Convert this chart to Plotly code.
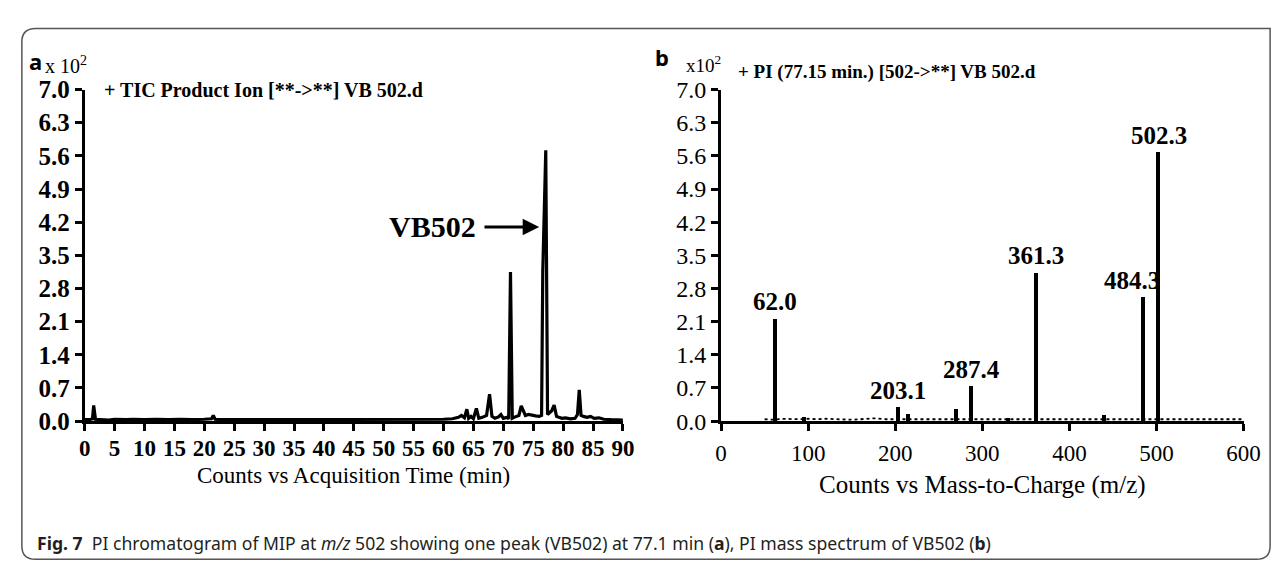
import plotly.graph_objects as go

W, H = 1285, 571

# ---------------- data ----------------
# Panel a: TIC chromatogram (time in min, counts x10^2)
time_min = [0.0, 0.8, 1.3, 1.5, 1.8, 3, 4, 5, 6, 7, 8, 9, 10, 12, 14, 16, 18, 20, 21.2, 21.5, 21.8,
            23, 25, 27, 30, 33, 35, 38, 40, 43, 45, 47, 50, 52, 55, 57, 60, 61.5,
            62.5, 63.0, 63.5, 63.9, 64.2, 64.6, 65.0, 65.5, 65.9, 66.5, 67.2, 67.7, 68.1, 68.6,
            69.2, 69.6, 70.0, 70.6, 70.9, 71.2, 71.5, 72.0, 72.6, 73.0, 73.3, 73.7, 74.2, 74.8,
            75.4, 76.0, 76.4, 76.6, 77.1, 77.4, 77.7, 78.1, 78.5, 78.9, 79.3, 79.8, 80.4, 81.2,
            82.0, 82.4, 82.7, 83.0, 83.4, 84.0, 84.6, 85.2, 86.0, 86.8, 88.0, 90.0]
tic_counts = [0.03, 0.03, 0.05, 0.33, 0.04, 0.03, 0.02, 0.04, 0.03, 0.03, 0.04, 0.03, 0.03, 0.04, 0.03, 0.04, 0.03, 0.04, 0.05, 0.12, 0.04,
              0.03, 0.03, 0.04, 0.03, 0.03, 0.04, 0.03, 0.03, 0.04, 0.03, 0.04, 0.03, 0.04, 0.03, 0.04, 0.04, 0.05,
              0.08, 0.12, 0.07, 0.25, 0.06, 0.10, 0.05, 0.27, 0.06, 0.08, 0.12, 0.57, 0.10, 0.06,
              0.09, 0.14, 0.06, 0.08, 0.05, 3.15, 0.06, 0.09, 0.12, 0.32, 0.22, 0.12, 0.14, 0.12,
              0.11, 0.10, 0.12, 3.15, 5.72, 0.14, 0.18, 0.22, 0.34, 0.10, 0.08, 0.06, 0.07, 0.05,
              0.06, 0.14, 0.66, 0.12, 0.10, 0.08, 0.10, 0.06, 0.07, 0.04, 0.03, 0.02]

# Panel b: product-ion mass spectrum (m/z, counts x10^2)
mz_peaks = [62.0, 95.0, 203.1, 215.0, 270.0, 287.4, 330.0, 361.3, 440.0, 484.3, 502.3]
mz_counts = [2.17, 0.10, 0.30, 0.15, 0.27, 0.75, 0.08, 3.14, 0.13, 2.62, 5.69]
labelled_peaks = [62.0, 203.1, 287.4, 361.3, 484.3, 502.3]
labelled_counts = [2.17, 0.30, 0.75, 3.14, 2.62, 5.69]

mz_noise = [50, 60, 70, 80, 90, 100, 110, 120, 130, 140, 150, 160, 175, 190, 200, 210, 225, 240, 255, 265,
            280, 295, 310, 325, 340, 355, 370, 385, 400, 415, 430, 450, 465, 475, 490, 510, 525, 540, 555, 570, 585, 600]
noise_counts = [0.04, 0.03, 0.05, 0.04, 0.04, 0.05, 0.04, 0.05, 0.04, 0.04, 0.03, 0.04, 0.06, 0.04, 0.04, 0.05,
                0.04, 0.04, 0.04, 0.05, 0.04, 0.04, 0.04, 0.05, 0.04, 0.04, 0.05, 0.04, 0.04, 0.05, 0.04,
                0.04, 0.05, 0.04, 0.04, 0.05, 0.04, 0.04, 0.05, 0.04, 0.04, 0.04]

y_ticks = [0.0, 0.7, 1.4, 2.1, 2.8, 3.5, 4.2, 4.9, 5.6, 6.3, 7.0]
x_ticks_a = list(range(0, 91, 5))
x_ticks_b = [0, 100, 200, 300, 400, 500, 600]

# ---------------- layout helpers ----------------
def px(x):
    return x / W

def py(y):
    return 1 - y / H

SERIF = "Liberation Serif"
SANS = "Noto Sans"

Y0, Y7 = 420, 72          # pixel rows of 0.0 and 7.0
AX_L = (72, 620)          # left panel x-axis pixel extent
AX_R = (720, 1252)        # right panel x-axis pixel extent

fig = go.Figure()

fig.add_trace(go.Scatter(x=time_min, y=tic_counts, mode="lines",
                         line=dict(color="black", width=3.2), xaxis="x", yaxis="y",
                         showlegend=False, hoverinfo="skip"))

fig.add_trace(go.Scatter(x=mz_noise, y=noise_counts, mode="lines",
                         line=dict(color="black", width=1.8, dash="dot"), xaxis="x2", yaxis="y2",
                         showlegend=False, hoverinfo="skip"))
fig.add_trace(go.Bar(x=mz_peaks, y=mz_counts, width=4.5, marker=dict(color="black", line=dict(width=0)),
                     xaxis="x2", yaxis="y2", showlegend=False, hoverinfo="skip"))

axis_common = dict(showline=True, linecolor="black", linewidth=3, ticks="outside", ticklen=7,
                   tickwidth=3, tickcolor="black", showgrid=False, zeroline=False)

fig.update_layout(
    width=W, height=H, margin=dict(l=0, r=0, t=0, b=0),
    paper_bgcolor="white", plot_bgcolor="rgba(0,0,0,0)", bargap=0,
    xaxis=dict(domain=[px(AX_L[0]), px(AX_L[1])], range=[0, 90], tickvals=x_ticks_a,
               tickfont=dict(family=SERIF, size=23, color="black", weight="bold"), ticklabelstandoff=-3,
               anchor="y", **axis_common),
    yaxis=dict(domain=[py(Y0), py(Y7)], range=[0, 7.0], tickvals=y_ticks, tickformat=".1f",
               tickfont=dict(family=SERIF, size=25, color="black", weight="bold"),
               anchor="x", **axis_common),
    xaxis2=dict(domain=[px(AX_R[0]), px(AX_R[1])], range=[0, 600], tickvals=x_ticks_b,
                tickfont=dict(family=SERIF, size=23, color="black"), ticklabelstandoff=2,
                anchor="y2", **axis_common),
    yaxis2=dict(domain=[py(Y0), py(Y7)], range=[0, 7.0], tickvals=y_ticks, tickformat=".1f",
                tickfont=dict(family=SERIF, size=24, color="black"),
                anchor="x2", **axis_common),
)

ann = []
# panel letters and multipliers
ann.append(dict(xref="paper", yref="paper", x=px(13), y=py(42), text="<b>a</b>", showarrow=False,
                xanchor="left", yanchor="middle", font=dict(family=SANS, size=22, color="black")))
ann.append(dict(xref="paper", yref="paper", x=px(30), y=py(46), text="x 10<sup>2</sup>", showarrow=False,
                xanchor="left", yanchor="middle", font=dict(family=SERIF, size=20, color="black")))
ann.append(dict(xref="paper", yref="paper", x=px(651), y=py(38), text="<b>b</b>", showarrow=False,
                xanchor="left", yanchor="middle", font=dict(family=SANS, size=22, color="black")))
ann.append(dict(xref="paper", yref="paper", x=px(682), y=py(45), text="x10<sup>2</sup>", showarrow=False,
                xanchor="left", yanchor="middle", font=dict(family=SERIF, size=19, color="black")))
# panel titles
ann.append(dict(xref="paper", yref="paper", x=px(90), y=py(72), text="<b>+ TIC Product Ion [**->**] VB 502.d</b>",
                showarrow=False, xanchor="left", yanchor="middle", font=dict(family=SERIF, size=20, color="black")))
ann.append(dict(xref="paper", yref="paper", x=px(735), y=py(54), text="<b>+ PI (77.15 min.) [502->**] VB 502.d</b>",
                showarrow=False, xanchor="left", yanchor="middle", font=dict(family=SERIF, size=19, color="black")))
# axis titles
ann.append(dict(xref="paper", yref="paper", x=px((AX_L[0] + AX_L[1]) / 2), y=py(477),
                text="Counts vs Acquisition Time (min)", showarrow=False, xanchor="center", yanchor="middle",
                font=dict(family=SERIF, size=23, color="black")))
ann.append(dict(xref="paper", yref="paper", x=px((AX_R[0] + AX_R[1]) / 2), y=py(487),
                text="Counts vs Mass-to-Charge (m/z)", showarrow=False, xanchor="center", yanchor="middle",
                font=dict(family=SERIF, size=25, color="black")))
# VB502 arrow
ann.append(dict(xref="x", yref="y", x=76.0, y=4.1, ax=66.6, ay=4.1, axref="x", ayref="y", text="",
                showarrow=True, arrowhead=2, arrowsize=1.1, arrowwidth=3, arrowcolor="black"))
ann.append(dict(xref="x", yref="y", x=65.8, y=4.1, text="<b>VB502</b>", showarrow=False,
                xanchor="right", yanchor="middle", font=dict(family=SERIF, size=30, color="black")))
# peak labels
for m, c in zip(labelled_peaks, labelled_counts):
    xs = -11 if m == 484.3 else 0
    ann.append(dict(xref="x2", yref="y2", x=m, y=c, text=f"<b>{m:.1f}</b>", showarrow=False,
                    xanchor="center", yanchor="bottom", xshift=xs, yshift=1,
                    font=dict(family=SERIF, size=25, color="black")))
# caption
ann.append(dict(xref="paper", yref="paper", x=px(21), y=py(548),
                text="<b>Fig. 7</b>  PI chromatogram of MIP at <i>m/z</i> 502 showing one peak (VB502) at 77.1 min (<b>a</b>), PI mass spectrum of VB502 (<b>b</b>)",
                showarrow=False, xanchor="left", yanchor="middle", font=dict(family=SANS, size=17.6, color="#231f20")))
fig.update_layout(annotations=ann)

# rounded outer frame
x0, y0, x1, y1, r = px(8), py(8), px(1279), py(565), 14
rx, ry = r / W, r / H
path = (f"M {x0 + rx},{y0} L {x1},{y0} L {x1},{y1 + ry} Q {x1},{y1} {x1 - rx},{y1} "
        f"L {x0 + rx},{y1} Q {x0},{y1} {x0},{y1 + ry} L {x0},{y0 - ry} Q {x0},{y0} {x0 + rx},{y0} Z")
fig.add_shape(type="path", xref="paper", yref="paper", path=path,
              line=dict(color="#555555", width=1.5), fillcolor="rgba(0,0,0,0)", layer="below")

fig.write_html("out.html")
